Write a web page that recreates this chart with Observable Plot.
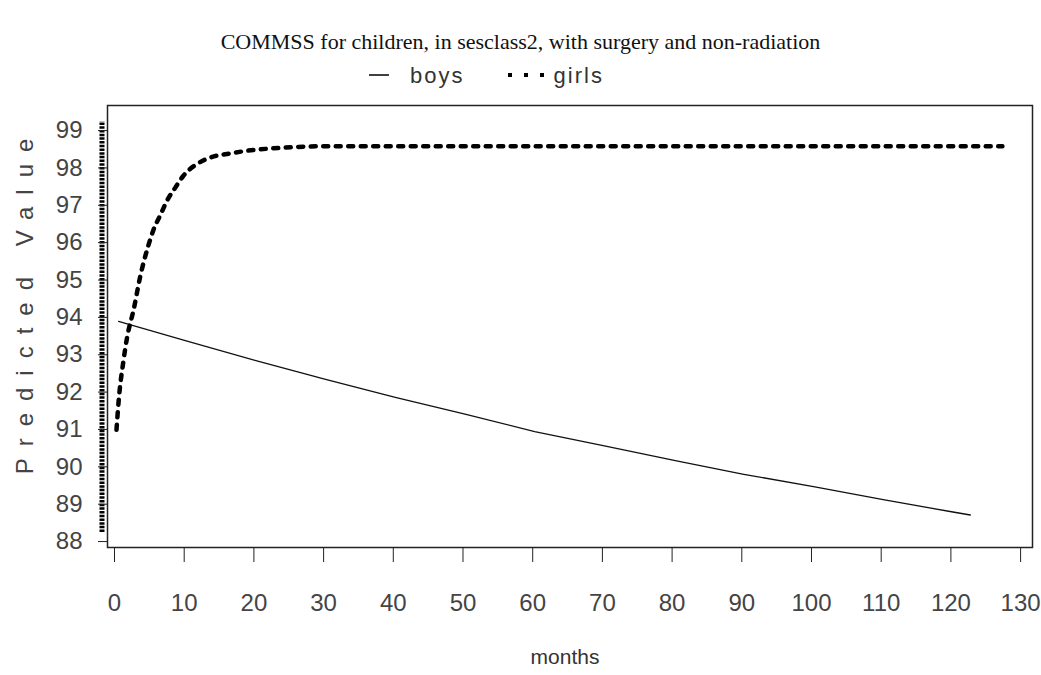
<!DOCTYPE html>
<html>
<head>
<meta charset="utf-8">
<script src="https://cdn.jsdelivr.net/npm/d3@7"></script>
<script src="https://cdn.jsdelivr.net/npm/@observablehq/plot@0.6"></script>
<style>
  body { margin: 0; background: #fff; width: 1041px; }
  #title { margin-top: 27px; height: 30px; line-height: 30px; text-align: center;
    font-family: "Liberation Serif", serif; font-size: 22px; color: #111; }
  #legend { height: 33px; line-height: 33px; padding-left: 369px;
    font-family: "Liberation Sans", sans-serif; font-size: 22px; color: #333; letter-spacing: 2px; }
  #legend span { display: inline-flex; align-items: center; vertical-align: middle; }
</style>
</head>
<body>
<div id="title">COMMSS for children, in sesclass2, with surgery and non-radiation</div>
<div id="legend">
  <span><svg width="20" height="10" style="margin-right:21px"><line x1="0" x2="20" y1="5" y2="5" stroke="#000" stroke-width="1.5"/></svg>boys</span>
  <span style="margin-left:35px"><svg width="38" height="10" style="margin-right:8px"><line x1="0" x2="38" y1="5" y2="5" stroke="#000" stroke-width="4" stroke-dasharray="4,12"/></svg>girls</span>
</div>
<div id="chart"></div>
<script>
// months and predicted values
const boysMonths = [0.3, 10, 20, 30, 40, 50, 60, 70, 80, 90, 100, 110, 120, 122.5];
const boysValues = [93.65, 93.13, 92.6, 92.1, 91.62, 91.17, 90.7, 90.32, 89.93, 89.56, 89.23, 88.88, 88.55, 88.47];

const girlsMonths = [0, 0.3, 1.0, 1.5, 2.5, 3.4, 4.6, 5.3, 6.3, 7.3, 8.5, 9.6, 11.6, 13.5, 16.4, 18.8, 24, 30, 127.1];
const girlsValues = [90.75, 91.5, 92.6, 93.2, 94.0, 94.85, 95.7, 96.1, 96.5, 96.9, 97.25, 97.55, 97.87, 98.04, 98.15, 98.22, 98.3, 98.34, 98.34];

const xTicks = d3.range(0, 131, 10);
const yTicks = d3.range(88, 100, 1);

const boys = boysMonths.map((m, i) => ({month: m, value: boysValues[i]}));
const girls = girlsMonths.map((m, i) => ({month: m, value: girlsValues[i]}));

const xDomain = [-1.29, 131.42];
const yDomain = [87.6, 99.43];

let chart = Plot.plot({
  width: 1041,
  height: 585,
  marginLeft: 107,
  marginRight: 9,
  marginTop: 15,
  marginBottom: 128,
  style: {
    fontFamily: "Liberation Sans, sans-serif",
    fontSize: "24px",
    color: "#333",
    background: "#fff"
  },
  x: { domain: xDomain, label: null },
  y: { domain: yDomain, label: null },
  marks: [
    Plot.frame({ stroke: "#222", strokeWidth: 1.5 }),
    // dotted y axis line
    Plot.ruleX([xDomain[0]], { y1: yTicks[0], y2: yTicks[yTicks.length - 1], dx: -5.5,
      stroke: "#000", strokeWidth: 5, strokeDasharray: "2.5,1.2" }),
    Plot.axisY({ ticks: yTicks, tickSize: 9, tickPadding: 16, dy: 9, stroke: "#222",
      fill: "#444", tickFormat: d => d }),
    Plot.axisX({ ticks: xTicks, tickSize: 15, tickPadding: 31, stroke: "#222",
      fill: "#444", tickFormat: d => d, dx: -2 }),
    Plot.line(boys, { x: "month", y: "value", stroke: "#111", strokeWidth: 1.3 }),
    Plot.line(girls, { x: "month", y: "value", stroke: "#000", strokeWidth: 4.5,
      strokeDasharray: "5,7.5", curve: "monotone-x" }),
    Plot.text(["months"], { frameAnchor: "bottom", dy: 116, dx: -5, fontSize: 21, fill: "#333" }),
    Plot.text(["Predicted Value"], { frameAnchor: "left", textAnchor: "middle", dx: -82, dy: -26,
      rotate: -90, fontSize: 24, fill: "#444" })
  ]
});
d3.select("#chart").append(() => chart);
d3.select(chart).selectAll("text").filter(function() { return this.textContent === "Predicted Value"; })
  .style("letter-spacing", "12px");
</script>
</body>
</html>
